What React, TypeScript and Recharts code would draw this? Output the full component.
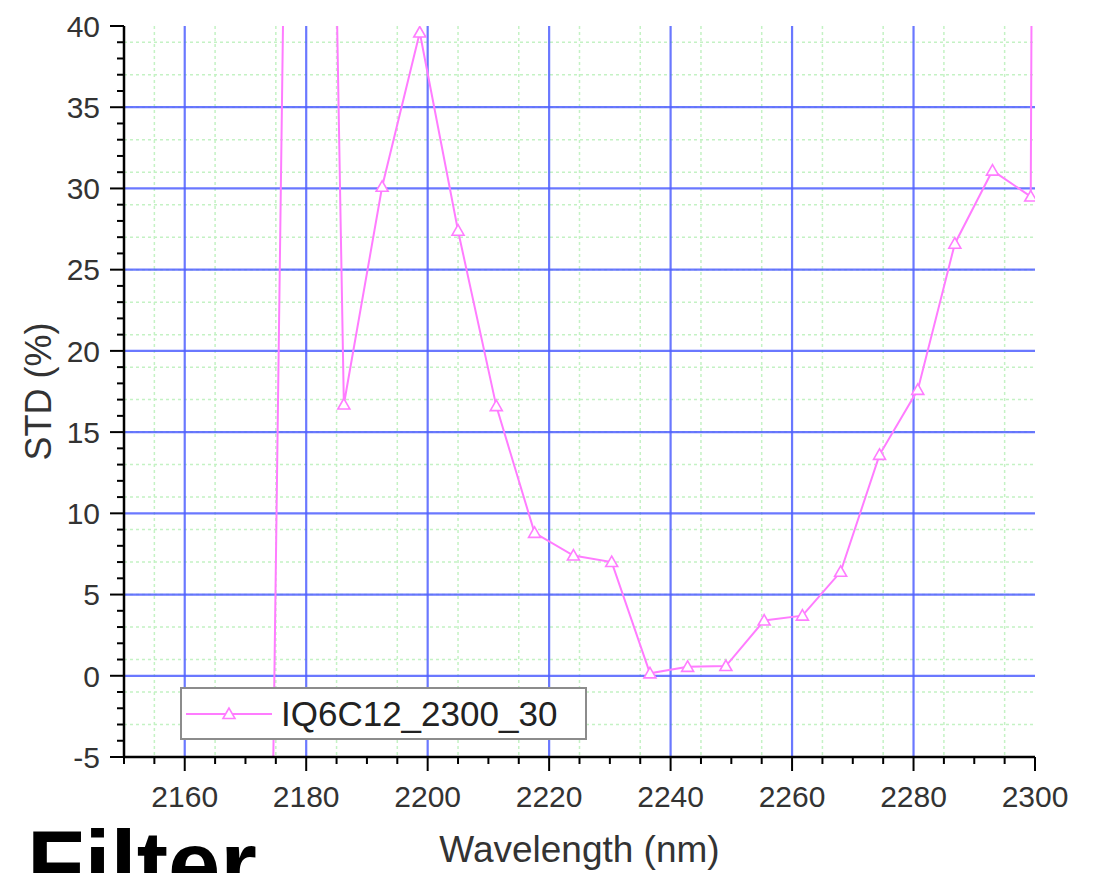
import React from 'react';
import { LineChart, Line, XAxis, YAxis, CartesianGrid, Legend } from 'recharts';

// values
const wavelength = [
  2173.7, 2180.0, 2186.2, 2192.5, 2198.7, 2205.0, 2211.3, 2217.6, 2224.0, 2230.3, 2236.6,
  2242.8, 2249.1, 2255.4, 2261.7, 2268.0, 2274.4, 2280.7, 2286.8, 2293.0, 2299.3, 2305.6,
];
const stdPct = [
  -30, 148, 16.7, 30.1, 39.6, 27.4, 16.6, 8.8, 7.4, 7.0, 0.15,
  0.55, 0.6, 3.4, 3.7, 6.4, 13.6, 17.6, 26.6, 31.1, 29.5, 600,
];
const seriesName = 'IQ6C12_2300_30';

const xMajorTicks = [2160, 2180, 2200, 2220, 2240, 2260, 2280, 2300];
const yMajorTicks = [-5, 0, 5, 10, 15, 20, 25, 30, 35, 40];

const X_DOMAIN: [number, number] = [2150, 2300];
const Y_DOMAIN: [number, number] = [-5, 40];

const range = (from: number, to: number, step: number) => {
  const out: number[] = [];
  for (let v = from; v <= to + 1e-9; v += step) out.push(Math.round(v * 100) / 100);
  return out;
};
const xAllTicks = range(2150, 2300, 5);
const yAllTicks = range(-5, 40, 1);

// no frame on top/right, so grid lines stop short of the domain edges
const xGridMajor = xMajorTicks.filter((v) => v < 2300);
const yGridMajor = yMajorTicks.filter((v) => v > -5 && v < 40);
const xGridMinor = xAllTicks.filter((v) => v > 2150 && v < 2300);
const yGridMinor = yAllTicks.filter((v) => v > -5 && v < 40);

const data = wavelength.map((wl, i) => ({ wl, std: stdPct[i] }));

const FONT = '"Liberation Sans", Arial, sans-serif';
const PINK = '#ff7cff';
const BLUE = '#5060ff';
const GREEN = '#c4f2c4';
const TEXT = '#333';

function XTick(props: any) {
  const { x, y, payload } = props;
  const major = payload.value % 20 === 0;
  return (
    <g>
      <line x1={x} y1={y} x2={x} y2={y + (major ? 14 : 7)} stroke="#000" strokeWidth={2} />
      {major && (
        <text x={x} y={y + 50} textAnchor="middle" fontSize={30} fill={TEXT} fontFamily={FONT}>
          {payload.value}
        </text>
      )}
    </g>
  );
}

function YTick(props: any) {
  const { x, y, payload } = props;
  const major = payload.value % 5 === 0;
  return (
    <g>
      <line x1={x} y1={y} x2={x - (major ? 14 : 7)} y2={y} stroke="#000" strokeWidth={2} />
      {major && (
        <text x={x - 24} y={y} dy="0.36em" textAnchor="end" fontSize={30} fill={TEXT} fontFamily={FONT}>
          {payload.value}
        </text>
      )}
    </g>
  );
}

function Triangle(props: any) {
  const { cx, cy } = props;
  if (cx == null || cy == null) return <g key={props.index} />;
  return (
    <polygon
      key={props.index}
      points={`${cx},${cy - 6} ${cx - 6},${cy + 4.5} ${cx + 6},${cy + 4.5}`}
      fill="#fff"
      stroke={PINK}
      strokeWidth={1.6}
    />
  );
}

function LegendBox() {
  return (
    <div
      style={{
        boxSizing: 'border-box',
        width: 407,
        height: 53,
        border: '2px solid #8c8c8c',
        background: '#fff',
        display: 'flex',
        alignItems: 'center',
      }}
    >
      <svg width={94} height={49} style={{ flex: 'none' }}>
        <line x1={4} y1={25} x2={90} y2={25} stroke={PINK} strokeWidth={2} />
        <Triangle cx={47} cy={25} />
      </svg>
      <span style={{ marginLeft: 5, fontSize: 35, fontFamily: FONT, color: '#222', lineHeight: '49px' }}>
        {seriesName}
      </span>
    </div>
  );
}

export default function App() {
  return (
    <div
      style={{
        position: 'absolute',
        left: 0,
        top: 0,
        width: 1093,
        height: 873,
        overflow: 'hidden',
        background: '#fff',
      }}
    >
      <LineChart width={1093} height={873} data={data} margin={{ top: 26, right: 58, bottom: 0, left: 0 }}>
        <CartesianGrid
          xAxisId="gMin"
          yAxisId="gMin"
          syncWithTicks
          stroke={GREEN}
          strokeWidth={1.5}
          strokeDasharray="3 3"
        />
        <CartesianGrid xAxisId="gMaj" yAxisId="gMaj" syncWithTicks stroke={BLUE} strokeOpacity={0.85} strokeWidth={2.2} />
        <XAxis
          xAxisId="main"
          dataKey="wl"
          type="number"
          domain={X_DOMAIN}
          allowDataOverflow
          ticks={xAllTicks}
          interval={0}
          height={116}
          tickSize={0}
          tickMargin={0}
          tickLine={false}
          tick={(p: any) => <XTick {...p} />}
          axisLine={{ stroke: '#000', strokeWidth: 2.5 }}
          label={(p: any) => {
            const vb = p.viewBox;
            return (
              <text x={vb.x + vb.width / 2} y={vb.y + 105} textAnchor="middle" fontSize={37} fill={TEXT} fontFamily={FONT}>
                Wavelength (nm)
              </text>
            );
          }}
        />
        <YAxis
          yAxisId="main"
          type="number"
          domain={Y_DOMAIN}
          allowDataOverflow
          ticks={yAllTicks}
          interval={0}
          width={124}
          tickSize={0}
          tickMargin={0}
          tickLine={false}
          tick={(p: any) => <YTick {...p} />}
          axisLine={{ stroke: '#000', strokeWidth: 2.5 }}
          label={(p: any) => {
            const vb = p.viewBox;
            const cx = vb.x + 38;
            const cy = vb.y + vb.height / 2;
            return (
              <text
                x={cx}
                y={cy}
                dy="0.36em"
                transform={`rotate(-90 ${cx} ${cy})`}
                textAnchor="middle"
                fontSize={36}
                fill={TEXT}
                fontFamily={FONT}
              >
                STD (%)
              </text>
            );
          }}
        />
        {/* hidden axes only feed the two grid layers; zero size so they don't shift the visible axes */}
        <XAxis xAxisId="gMaj" dataKey="wl" type="number" domain={X_DOMAIN} allowDataOverflow ticks={xGridMajor} height={0} hide />
        <YAxis yAxisId="gMaj" type="number" domain={Y_DOMAIN} allowDataOverflow ticks={yGridMajor} width={0} hide />
        <XAxis xAxisId="gMin" dataKey="wl" type="number" domain={X_DOMAIN} allowDataOverflow ticks={xGridMinor} height={0} hide />
        <YAxis yAxisId="gMin" type="number" domain={Y_DOMAIN} allowDataOverflow ticks={yGridMinor} width={0} hide />
        <Legend
          layout="vertical"
          align="center"
          verticalAlign="middle"
          wrapperStyle={{ left: 180, top: 687, width: 407, height: 53 }}
          content={() => <LegendBox />}
        />
        <Line
          xAxisId="main"
          yAxisId="main"
          name={seriesName}
          type="linear"
          dataKey="std"
          stroke={PINK}
          strokeWidth={2}
          dot={(p: any) => <Triangle key={p.index} {...p} />}
          activeDot={false}
          isAnimationActive={false}
        />
      </LineChart>
      <div
        style={{
          position: 'absolute',
          left: 27,
          top: 818,
          fontSize: 94,
          lineHeight: '94px',
          fontWeight: 'bold',
          fontFamily: FONT,
          color: '#000',
          whiteSpace: 'nowrap',
        }}
      >
        Filter
      </div>
    </div>
  );
}
